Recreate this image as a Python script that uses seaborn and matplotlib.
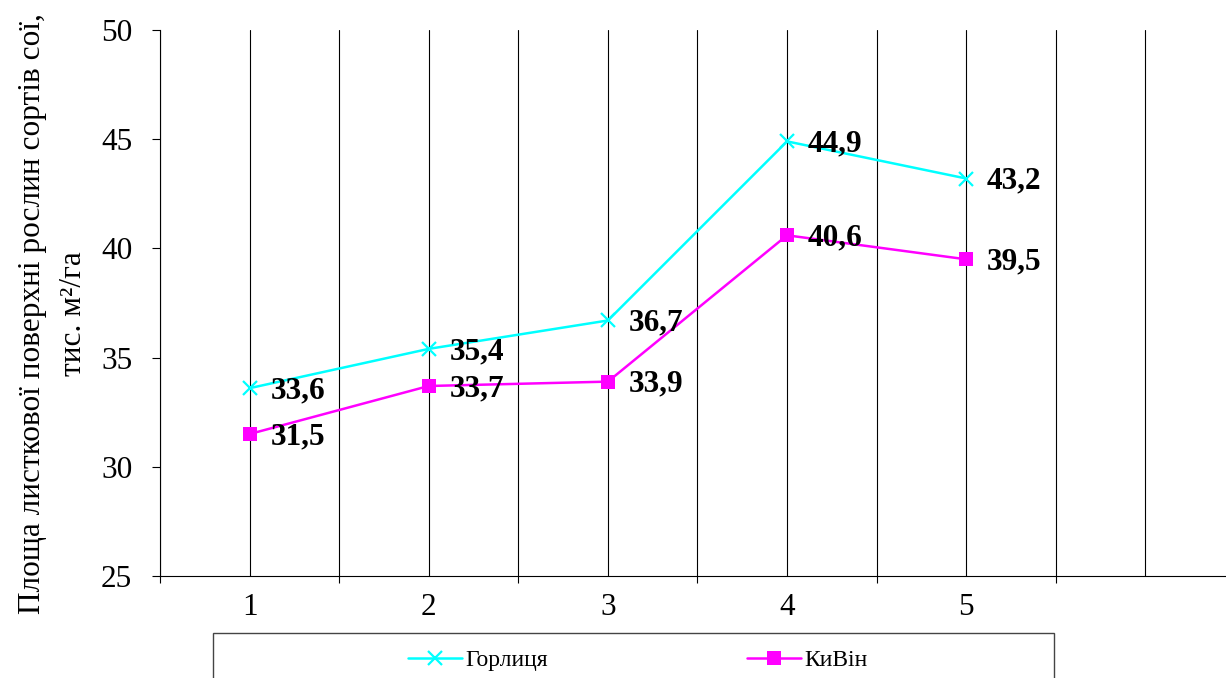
import matplotlib
matplotlib.use("Agg")
import matplotlib.pyplot as plt
from matplotlib.patches import Rectangle
from matplotlib.ticker import FixedLocator
import seaborn as sns
import pandas as pd

# Leaf area of soybean varieties by stage
stages = [1, 2, 3, 4, 5]
gorlytsia = [33.6, 35.4, 36.7, 44.9, 43.2]
kyvin = [31.5, 33.7, 33.9, 40.6, 39.5]
series_names = ["Горлиця", "КиВін"]
y_ticks = [25, 30, 35, 40, 45, 50]

sns.set_theme(style="white")
plt.rcParams["font.family"] = ["Liberation Serif", "DejaVu Serif"]
plt.rcParams["text.color"] = "black"
plt.rcParams["xtick.color"] = "black"
plt.rcParams["ytick.color"] = "black"

fig = plt.figure(figsize=(12.26, 6.78), dpi=100)
ax = fig.add_axes([160 / 1226, 1 - 576 / 678, 1 - 160 / 1226, (576 - 30) / 678])

df = pd.DataFrame({
    "stage": stages * 2,
    "value": gorlytsia + kyvin,
    "variety": [series_names[0]] * len(stages) + [series_names[1]] * len(stages),
})

colors = {"Горлиця": "#00FFFF", "КиВін": "#FF00FF"}
markers = {"Горлиця": "x", "КиВін": "s"}

handles = []
for name in series_names:
    sub = df[df["variety"] == name]
    sns.lineplot(data=sub, x="stage", y="value", ax=ax, color=colors[name],
                 marker=markers[name], markersize=9.5,
                 markeredgewidth=1.6 if markers[name] == "x" else 0,
                 markerfacecolor=colors[name], markeredgecolor=colors[name],
                 linewidth=1.8, label=name, legend=False, zorder=3)
    handles.append(ax.lines[-1])
    for xv, yv in zip(sub["stage"], sub["value"]):
        ax.annotate(f"{yv:.1f}".replace(".", ","), (xv, yv),
                    xytext=(15, -2), textcoords="offset points",
                    ha="left", va="center", fontsize=22.5, fontweight="bold",
                    color="black", zorder=4)

ax.set_xlim(0.5, 6.45)
ax.set_ylim(25, 50)

# vertical grid at every half step
ax.xaxis.set_major_locator(FixedLocator([1, 2, 3, 4, 5, 6]))
ax.set_xticklabels(["1", "2", "3", "4", "5", ""])
ax.xaxis.set_minor_locator(FixedLocator([0.5, 1.5, 2.5, 3.5, 4.5, 5.5]))
ax.grid(True, axis="x", which="both", color="black", linewidth=0.8)
ax.grid(False, axis="y")
ax.set_axisbelow(True)

ax.set_yticks(y_ticks)
ax.tick_params(axis="y", which="major", direction="out", length=6, width=0.8,
               color="black", labelcolor="black", labelsize=22.5, pad=14, left=True)
ax.tick_params(axis="x", which="major", length=0, labelsize=22.5, pad=12,
               labelcolor="black")
ax.tick_params(axis="x", which="minor", direction="out", length=5, width=0.8,
               color="black", bottom=True)

for side in ["top", "right"]:
    ax.spines[side].set_visible(False)
for side in ["left", "bottom"]:
    ax.spines[side].set_color("black")
    ax.spines[side].set_linewidth(0.8)

ax.set_xlabel("")
ax.set_ylabel("")
fig.text(53 / 1226, 1 - 314 / 678,
         "Площа листкової поверхні рослин сортів сої,\nтис. м²/га",
         rotation=90, ha="center", va="center", multialignment="center",
         fontsize=22.5, linespacing=1.55, color="black")

# legend box
fig.patches.append(Rectangle((213 / 1226, -0.02), (1054 - 213) / 1226,
                             0.02 + (678 - 633) / 678, transform=fig.transFigure,
                             facecolor="white", edgecolor="#444444", linewidth=1.0))
fig.legend(handles, series_names, loc="center left",
           bbox_to_anchor=(408 / 1226, 1 - 660 / 678), ncol=2, frameon=False,
           fontsize=17, handlelength=2.3, handletextpad=0.15, columnspacing=8.4,
           borderpad=0, borderaxespad=0, labelcolor="black")

fig.savefig("out.png", dpi=100)
